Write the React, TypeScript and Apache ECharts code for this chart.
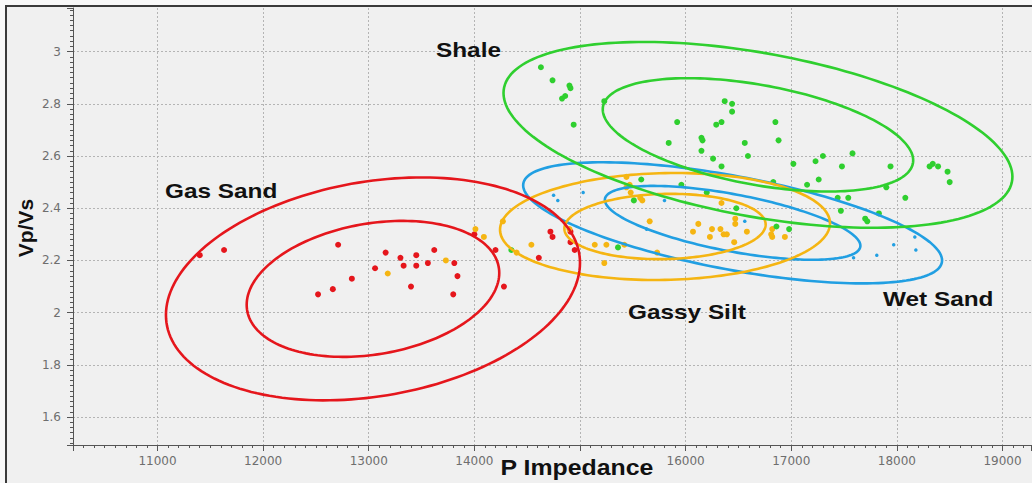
import { useEffect, useRef } from 'react';
import * as echarts from 'echarts';

// Facies classes and their colours
const facies = ['Gas Sand', 'Gassy Silt', 'Wet Sand', 'Shale'];
const faciesColors = ['#e5161c', '#f5b512', '#219fe2', '#2fcf2f'];

// Bivariate confidence ellipse parameters per facies (P Impedance vs Vp/Vs)
const centerImpedance = [13040, 15805, 16445, 16685];
const centerVpVs = [2.091, 2.33, 2.344, 2.681];
const spreadImpedance = [1960, 1562, 1983, 2409];
const spreadVpVs = [0.427, 0.205, 0.232, 0.356];
const correlation = [0.234, 0.06, -0.62, -0.45];
const contourLevels = [1, 0.61];

// Well log samples, [P Impedance, Vp/Vs]
const gasSandPoints = [
  [11400, 2.22], [11630, 2.24], [12710, 2.26], [13160, 2.23], [13300, 2.21], [13450, 2.22],
  [13620, 2.24], [13060, 2.17], [13330, 2.18], [13450, 2.18], [13560, 2.19], [13810, 2.19],
  [13840, 2.14], [12840, 2.13], [12660, 2.09], [12520, 2.07], [13400, 2.1], [13800, 2.07],
  [14000, 2.3], [14200, 2.24], [14280, 2.1], [14720, 2.31], [14740, 2.29], [14910, 2.31],
  [14950, 2.24], [14610, 2.21], [14910, 2.27],
];
const gassySiltPoints = [
  [13180, 2.15], [13730, 2.2], [14010, 2.32], [14090, 2.29], [14270, 2.35], [14400, 2.23],
  [14540, 2.26], [14900, 2.32], [15140, 2.26], [15250, 2.26], [15420, 2.26], [15230, 2.19],
  [15440, 2.52], [15470, 2.49], [15480, 2.46], [15570, 2.44], [15590, 2.43], [15660, 2.35],
  [15730, 2.23], [16070, 2.31], [16120, 2.34], [16250, 2.32], [16230, 2.29], [16330, 2.32],
  [16360, 2.3], [16390, 2.3], [16470, 2.36], [16470, 2.34], [16460, 2.27], [16580, 2.31],
  [16340, 2.42], [16820, 2.32], [16820, 2.29], [16810, 2.3], [16940, 2.29], [15440, 2.48],
];
const wetSandPoints = [
  [14750, 2.45], [14790, 2.43], [15030, 2.46], [15800, 2.43], [15630, 2.32], [16560, 2.35],
  [17970, 2.26], [18180, 2.24], [17810, 2.22], [17590, 2.21], [18170, 2.29],
];
const shalePoints = [
  [14630, 2.94], [14740, 2.89], [14900, 2.87], [14910, 2.86], [14830, 2.82], [14860, 2.83],
  [14940, 2.72], [15230, 2.81], [15920, 2.73], [15840, 2.65], [16370, 2.81], [16440, 2.8],
  [16440, 2.77], [16340, 2.73], [16290, 2.72], [16150, 2.67], [16160, 2.66], [16150, 2.62],
  [16260, 2.59], [16340, 2.56], [16560, 2.65], [16590, 2.6], [16850, 2.73], [16880, 2.66],
  [17020, 2.57], [16830, 2.5], [15960, 2.49], [15580, 2.51], [15510, 2.43], [15360, 2.25],
  [14350, 2.24], [16480, 2.4], [16200, 2.46], [16860, 2.33], [17230, 2.58], [17300, 2.6],
  [17580, 2.61], [17480, 2.56], [17260, 2.51], [17150, 2.49], [17440, 2.44], [17540, 2.44],
  [17470, 2.39], [17700, 2.36], [17720, 2.35], [17830, 2.38], [17940, 2.56], [17900, 2.48],
  [18080, 2.44], [18310, 2.56], [18340, 2.57], [18390, 2.56], [18480, 2.54], [18500, 2.5],
  [16980, 2.32],
];
const pointSets = [gasSandPoints, gassySiltPoints, wetSandPoints, shalePoints];
const pointSizes = [6, 6, 3.5, 6];

// Axis extents
const impedanceMin = 10200;
const impedanceMax = 19270;
const vpvsMin = 1.493;
const vpvsMax = 3.167;

const labelFont = '"Liberation Sans", Arial, sans-serif';

function buildOption() {
  const ellipseData: number[][] = [];
  // draw wet sand, gassy silt, shale, then gas sand on top
  [2, 1, 3, 0].forEach((f) => {
    contourLevels.forEach((lvl) => {
      ellipseData.push([
        centerImpedance[f], centerVpVs[f], spreadImpedance[f], spreadVpVs[f], correlation[f], lvl, f,
      ]);
    });
  });

  const scatterSeries = pointSets.map((pts, i) => ({
    type: 'scatter',
    name: facies[i],
    data: pts,
    symbol: 'circle',
    symbolSize: pointSizes[i],
    itemStyle: { color: faciesColors[i], opacity: 1 },
    z: 3,
  }));

  const ellipseSeries = {
    type: 'custom',
    name: 'ellipses',
    data: ellipseData,
    encode: { x: 0, y: 1 },
    z: 4,
    silent: true,
    renderItem: (_params: any, api: any) => {
      const cx = api.value(0);
      const cy = api.value(1);
      const sx = api.value(2) * api.value(5);
      const sy = api.value(3) * api.value(5);
      const delta = Math.acos(api.value(4));
      const color = faciesColors[api.value(6)];
      const pts: number[][] = [];
      const n = 180;
      for (let i = 0; i < n; i++) {
        const t = (2 * Math.PI * i) / n;
        pts.push(api.coord([cx + sx * Math.cos(t), cy + sy * Math.cos(t - delta)]));
      }
      return {
        type: 'polygon',
        shape: { points: pts },
        style: { fill: 'none', stroke: color, lineWidth: 2.6 },
      };
    },
  };

  const gridLine = { show: true, lineStyle: { color: '#b4b4b4', type: [2, 2], width: 1 } };
  const tickLabel = {
    fontFamily: '"DejaVu Sans", sans-serif',
    fontSize: 12,
    color: '#6e6e6e',
    showMinLabel: false,
    showMaxLabel: false,
  };

  const annotation = (text: string, x: number, y: number, size = 21, sx = 1.16, bg?: string) => ({
    type: 'text',
    x,
    y,
    scaleX: sx,
    style: {
      text,
      fill: '#111',
      font: `bold ${size}px ${labelFont}`,
      textAlign: 'left',
      textVerticalAlign: 'middle',
      ...(bg ? { backgroundColor: bg, padding: [2, 4, 2, 4] } : {}),
    },
    z: 10,
  });

  return {
    animation: false,
    backgroundColor: 'transparent',
    grid: { left: 73, top: 8, width: 958, height: 437 },
    xAxis: {
      type: 'value',
      min: impedanceMin,
      max: impedanceMax,
      splitNumber: 9,
      axisLine: { show: true, onZero: false, lineStyle: { color: '#555', width: 1 } },
      axisTick: { show: true, length: 6, lineStyle: { color: '#555' } },
      minorTick: { show: true, splitNumber: 10, length: 3, lineStyle: { color: '#555' } },
      axisLabel: { ...tickLabel, margin: 10, formatter: (v: number) => String(v) },
      splitLine: { ...gridLine, showMinLine: false, showMaxLine: false },
    },
    yAxis: {
      type: 'value',
      min: vpvsMin,
      max: vpvsMax,
      splitNumber: 8,
      axisLine: { show: true, onZero: false, lineStyle: { color: '#555', width: 1 } },
      axisTick: { show: true, length: 6, lineStyle: { color: '#555' } },
      minorTick: { show: true, splitNumber: 10, length: 3, lineStyle: { color: '#555' } },
      axisLabel: { ...tickLabel, margin: 12, formatter: (v: number) => String(Math.round(v * 10) / 10) },
      splitLine: { ...gridLine, showMinLine: false, showMaxLine: false },
    },
    series: [...scatterSeries, ellipseSeries],
    graphic: [
      annotation('Shale', 436, 50),
      annotation('Gas Sand', 165, 191),
      annotation('Gassy Silt', 628, 312),
      annotation('Wet Sand', 883, 299),
      annotation('P Impedance', 496, 468, 22, 1.13, '#f0f0f0'),
      {
        type: 'text',
        x: 25,
        y: 228,
        rotation: Math.PI / 2,
        style: {
          text: 'Vp/Vs',
          fill: '#111',
          font: `bold 21px ${labelFont}`,
          textAlign: 'center',
          textVerticalAlign: 'middle',
        },
        z: 10,
      },
    ],
  };
}

export default function App() {
  const ref = useRef<HTMLDivElement>(null);
  useEffect(() => {
    if (!ref.current) return;
    const chart = echarts.init(ref.current, undefined, { renderer: 'svg' });
    chart.setOption(buildOption() as any);
    return () => chart.dispose();
  }, []);
  return (
    <div
      style={{
        position: 'absolute',
        left: 0,
        top: 0,
        width: 1032,
        height: 483,
        background: '#f8f8f8',
        overflow: 'hidden',
      }}
    >
      <div
        style={{
          position: 'absolute',
          left: 5,
          top: 5,
          width: 1050,
          height: 500,
          border: '2px solid #3a3a3a',
          background: '#f0f0f0',
        }}
      />
      <div ref={ref} style={{ position: 'absolute', left: 0, top: 0, width: 1032, height: 483 }} />
    </div>
  );
}
